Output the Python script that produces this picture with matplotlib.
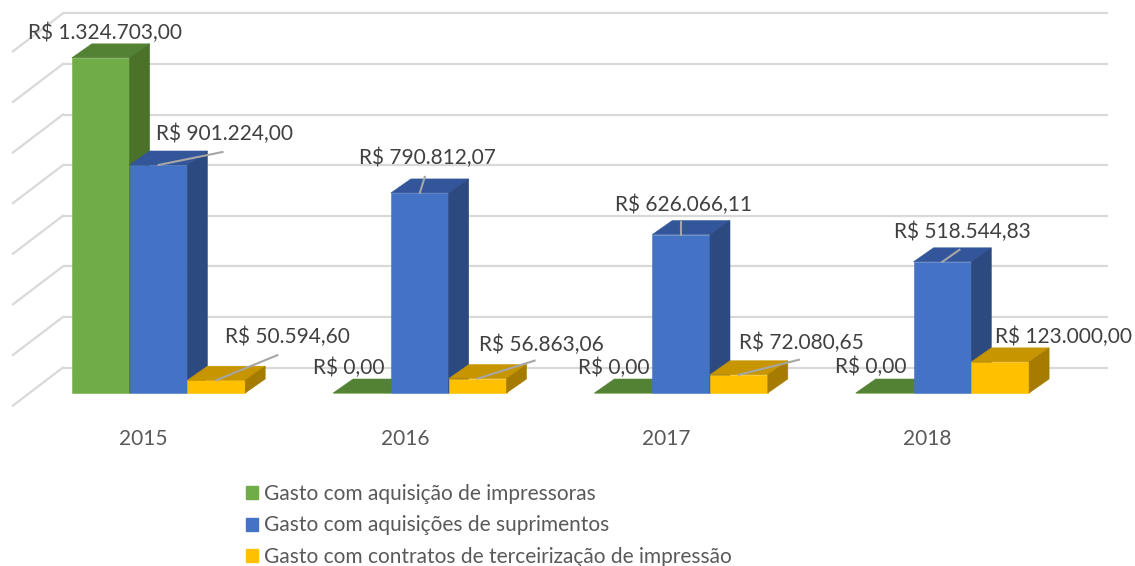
import numpy as np
import matplotlib
matplotlib.use('Agg')
import matplotlib.pyplot as plt
from matplotlib.patches import Polygon, Patch

plt.rcParams['font.family'] = ['Lato', 'DejaVu Sans']

# data
years = ['2015', '2016', '2017', '2018']
series_names = ['Gasto com aquisição de impressoras',
                'Gasto com aquisições de suprimentos',
                'Gasto com contratos de terceirização de impressão']
impressoras = [1324703.00, 0.00, 0.00, 0.00]
suprimentos = [901224.00, 790812.07, 626066.11, 518544.83]
terceirizacao = [50594.60, 56863.06, 72080.65, 123000.00]
grid_values = np.arange(0, 1400001, 200000)

# colours: front, top, side
faces = [('#70AD47', '#548235', '#4A7229'),
         ('#4472C4', '#33569A', '#2C4A80'),
         ('#FFC000', '#C69500', '#A67C00')]
text_dark = '#404040'
text_grey = '#595959'
grid_c = '#D9D9D9'
leader_c = '#A6A6A6'

# geometry (pixels of the 1135x566 canvas)
W, H = 1135, 566
base_px = 393            # front floor line
cat0_px, cat_step = 158.5, 261.3
PX_X = 1 / cat_step
PX_Y = 1553360 / base_px
bw = 57.8 * PX_X
depth_x, depth_y = 20 * PX_X, 14 * PX_Y


def brl(v):
    s = f'{v:,.2f}'.replace(',', '_').replace('.', ',').replace('_', '.')
    return 'R$ ' + s


fig = plt.figure(figsize=(W / 100, H / 100), dpi=100)
ax = fig.add_axes([0, 1 - base_px / H, 1, base_px / H])
ax.set_xlim(-cat0_px * PX_X, (W - cat0_px) * PX_X)
ax.set_ylim(0, base_px * PX_Y)
for sp in ax.spines.values():
    sp.set_visible(False)
ax.set_yticks([])

# back wall gridlines + left side diagonals
back_off = 25.5 * PX_Y
gx0, gx1 = (63 - cat0_px) * PX_X, (1108 - cat0_px) * PX_X
for g in grid_values:
    yb = g + back_off
    ax.plot([gx0, gx1], [yb, yb], color=grid_c, lw=1.6, zorder=1,
            clip_on=False, solid_capstyle='butt')
    ax.plot([gx0, gx0 - 50 * PX_X], [yb, yb - 38 * PX_Y], color=grid_c,
            lw=1.6, zorder=1, clip_on=False)

# 3D columns
x = np.arange(len(years))
z = 2
for s, vals in enumerate([impressoras, suprimentos, terceirizacao]):
    front, top, side = faces[s]
    left = x - 1.5 * bw + s * bw
    ax.bar(left, vals, width=bw, align='edge', color=front, edgecolor=front,
           lw=0.4, zorder=z, clip_on=False)
    for xl, v in zip(left, vals):
        xr = xl + bw
        ax.add_patch(Polygon([(xl, v), (xr, v), (xr + depth_x, v + depth_y),
                              (xl + depth_x, v + depth_y)],
                             closed=True, fc=top, ec=top, lw=0.4, zorder=z,
                             clip_on=False))
        if v > 0:
            ax.add_patch(Polygon([(xr, 0), (xr, v), (xr + depth_x, v + depth_y),
                                  (xr + depth_x, depth_y)],
                                 closed=True, fc=side, ec=side, lw=0.4,
                                 zorder=z, clip_on=False))
    z += 1

# data labels: offset of label centre and leader end (pixels, y up)
label_off = [
    [(4.5, 25), (-13, 25), (-10, 25), (-14, 26)],
    [(66, 31), (8, 35), (2, 30), (20, 30)],
    [(71, 43), (64, 34), (62, 32), (63, 25)],
]
leader_end = [
    [None, None, None, None],
    [(64, 13), (5, 16), (0, 13), (17, 12)],
    [(61, 25), (57, 18), (60, 15), None],
]
for s, vals in enumerate([impressoras, suprimentos, terceirizacao]):
    centers = x - bw + s * bw
    for i, (xc, v) in enumerate(zip(centers, vals)):
        le = leader_end[s][i]
        if le is not None:
            ax.plot([xc, xc + le[0] * PX_X], [v, v + le[1] * PX_Y],
                    color=leader_c, lw=1.5, zorder=10, clip_on=False)
        ox, oy = label_off[s][i]
        ax.annotate(brl(v), xy=(xc, v), xytext=(ox, oy),
                    textcoords='offset pixels', ha='center', va='center',
                    fontsize=15, color=text_dark, zorder=11,
                    annotation_clip=False)

# category labels
ax.set_xticks(x - 15 * PX_X)
ax.set_xticklabels(years, fontsize=15, color=text_grey)
ax.tick_params(axis='x', length=0, pad=26)

# legend
handles = [Patch(color=faces[s][0]) for s in range(3)]
fig.legend(handles, series_names, loc='upper left',
           bbox_to_anchor=(246 / W, 1 - 484 / H), frameon=False,
           fontsize=15, handlelength=0.58, handleheight=0.58,
           handletextpad=0.28, labelspacing=0.55, borderpad=0,
           borderaxespad=0, labelcolor=text_grey)

fig.savefig('out.png', dpi=100)
